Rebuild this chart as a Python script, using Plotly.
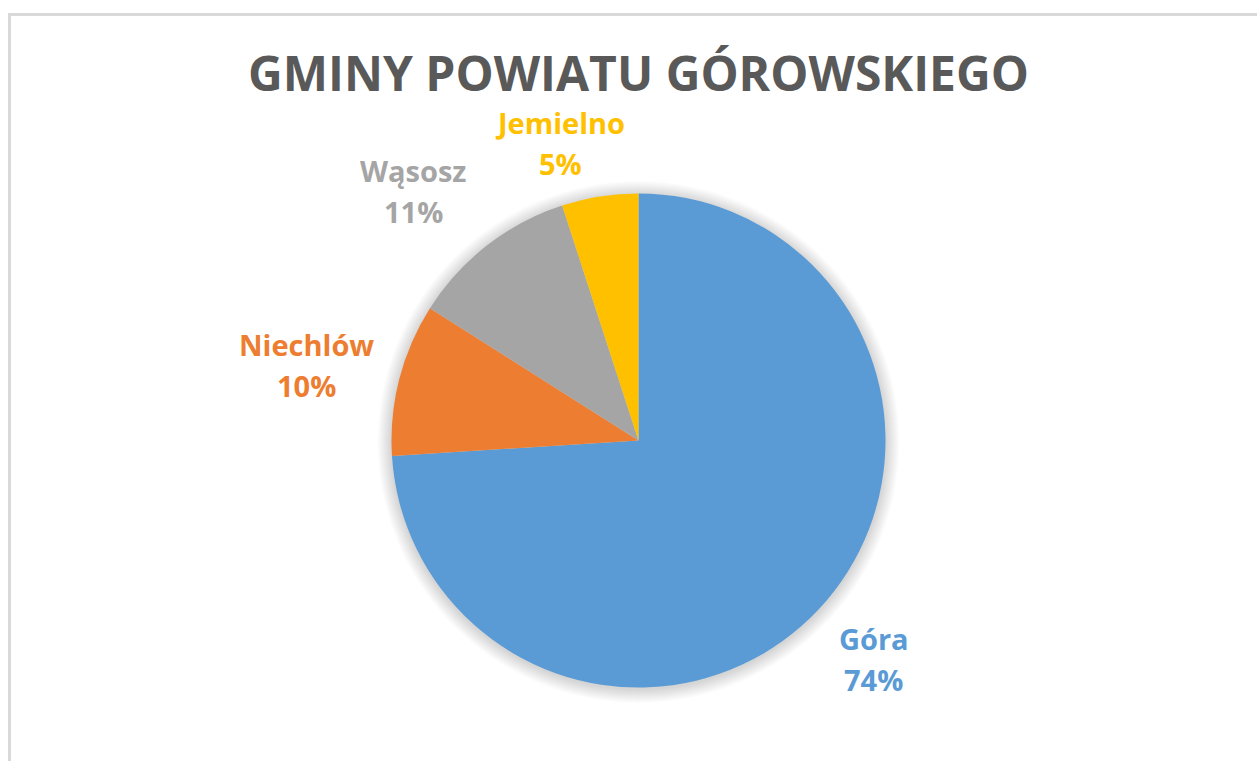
import math
import plotly.graph_objects as go

# Gminy powiatu górowskiego – udział procentowy
gminy = ["Góra", "Niechlów", "Wąsosz", "Jemielno"]
udzial = [74, 10, 11, 5]
kolory = ["#5B9BD5", "#ED7D31", "#A5A5A5", "#FFC000"]

W, H = 1257, 761
CX, CY, R = 638.5, 440.5, 247.0  # pie centre and radius in pixels


def px(x):
    return x / W


def py(y):
    return 1 - y / H


FONT = "Open Sans"

fig = go.Figure()
fig.add_trace(go.Pie(
    labels=gminy,
    values=udzial,
    marker=dict(colors=kolory, line=dict(width=0)),
    sort=False,
    direction="clockwise",
    rotation=0,
    textinfo="none",
    hoverinfo="label+percent",
    showlegend=False,
    domain=dict(x=[px(CX - R), px(CX + R)], y=[py(CY + R), py(CY - R)]),
))

# soft shadow around the pie
shapes = []
for i in range(1, 15):
    rr = R + i
    oy = 1.5
    shapes.append(dict(
        type="circle", xref="paper", yref="paper", layer="below",
        x0=px(CX - rr), x1=px(CX + rr), y0=py(CY + oy + rr), y1=py(CY + oy - rr),
        fillcolor="rgba(0,0,0,0.012)", line=dict(width=0),
    ))

# chart-area frame (left and top edges)
frame = "#D9D9D9"
shapes.append(dict(type="line", xref="paper", yref="paper",
                   x0=px(9.5), x1=px(9.5), y0=py(14.5), y1=py(H + 5),
                   line=dict(color=frame, width=3)))
shapes.append(dict(type="line", xref="paper", yref="paper",
                   x0=px(8), x1=px(W + 5), y0=py(14.5), y1=py(14.5),
                   line=dict(color=frame, width=3)))

# data labels: placed outside each slice along its mid-angle
total = sum(udzial)
gap = 25
half_h = 32
nudge = {"Niechlów": (0, 10), "Wąsosz": (-27, 10), "Jemielno": (-32, 12)}
annotations = []
cum = 0
for name, val, col in zip(gminy, udzial, kolory):
    mid = (cum + val / 2) / total * 2 * math.pi
    cum += val
    pct = f"{round(val / total * 100)}%"
    dx, dy = math.sin(mid), -math.cos(mid)
    half_w = max(len(name), len(pct)) * 8.5
    support = half_w * abs(dx) + half_h * abs(dy)
    d = R + support + gap
    lx = CX + d * dx + nudge.get(name, (0, 0))[0]
    ly = CY + d * dy + nudge.get(name, (0, 0))[1]
    for txt, off in ((name, -20), (pct, 21)):
        annotations.append(dict(
            x=px(lx + 3), y=py(ly + off), xref="paper", yref="paper",
            text=f"<b>{txt}</b>", showarrow=False,
            xanchor="center", yanchor="middle", borderpad=0,
            font=dict(family=FONT, size=29, color=col),
        ))

annotations.append(dict(
    x=px(638), y=py(72), xref="paper", yref="paper",
    text="<b>GMINY POWIATU GÓROWSKIEGO</b>", showarrow=False,
    xanchor="center", yanchor="middle", borderpad=0,
    font=dict(family=FONT, size=48, color="#595959"),
))

fig.update_layout(
    width=W, height=H,
    margin=dict(l=0, r=0, t=0, b=0),
    paper_bgcolor="white",
    plot_bgcolor="white",
    shapes=shapes,
    annotations=annotations,
)

fig.write_html("out.html", config={"displayModeBar": False})
